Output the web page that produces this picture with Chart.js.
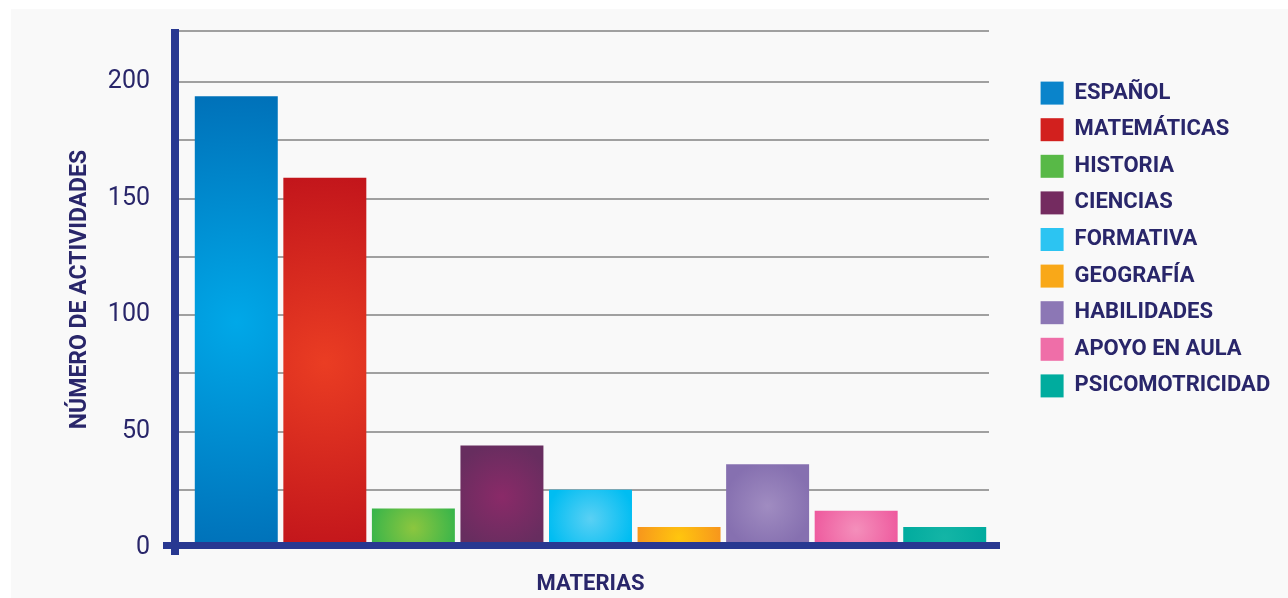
<!DOCTYPE html>
<html>
<head>
    <meta charset="utf-8">
    <title>Número de actividades por materia</title>
    <style>
        body {
            margin: 0;
            background: #ffffff;
        }
        #panel {
            position: absolute;
            left: 11px;
            top: 9px;
            width: 1277px;
            height: 589px;
            background: #f9f9f9;
        }
        #chart-container {
            position: absolute;
            left: 0;
            top: 0;
            width: 1288px;
            height: 598px;
        }
    </style>
</head>
<body>
    <script src="https://cdn.jsdelivr.net/npm/chart.js@4.4.1/dist/chart.umd.min.js"></script>
    <div id="panel"></div>
    <div id="chart-container">
        <canvas id="grafica" width="1288" height="598"></canvas>
    </div>

    <script>
        // datos
        const materias = ['ESPAÑOL', 'MATEMÁTICAS', 'HISTORIA', 'CIENCIAS', 'FORMATIVA',
                          'GEOGRAFÍA', 'HABILIDADES', 'APOYO EN AULA', 'PSICOMOTRICIDAD'];
        const actividades = [194, 159, 17, 44, 25, 9, 36, 16, 9];
        const marcasY = [0, 50, 100, 150, 200];

        // colores: centro del degradado, borde, y caja de la leyenda
        const coloresCentro = ['#00a8e8', '#ea3d23', '#8cc63f', '#8a2a68', '#5ad0f4',
                               '#ffc60e', '#a08cc1', '#f48fbb', '#14b5a6'];
        const coloresBorde = ['#006fb7', '#c1141b', '#39b54a', '#672d5f', '#00bdf2',
                              '#f7941d', '#8670b0', '#ee5a9e', '#00ab9e'];
        const coloresLeyenda = ['#0a84cb', '#d2201e', '#58b947', '#742b60', '#2cc4f2',
                                '#f9a818', '#8c77b5', '#ef6ea8', '#00ac9e'];

        const colorTexto = '#29266a';
        const colorEje = '#283891';
        const fuente = "Roboto, 'Liberation Sans', sans-serif";
        const porcentajeBarra = 0.937;

        // degradado radial de cada barra
        function degradado(ctx) {
            const chart = ctx.chart;
            const i = ctx.dataIndex;
            if (i === undefined || !chart.chartArea) {
                return coloresBorde[0];
            }
            const x = chart.scales.x.getPixelForValue(i);
            const yTop = chart.scales.y.getPixelForValue(actividades[i]);
            const yBase = chart.scales.y.getPixelForValue(0);
            const ancho = chart.scales.x.width / materias.length * porcentajeBarra;
            const cy = (yTop + yBase) / 2;
            const r = Math.max(ancho, yBase - yTop) / 2 * 1.05;
            const g = chart.ctx.createRadialGradient(x, cy, 0, x, cy, r);
            g.addColorStop(0, coloresCentro[i]);
            g.addColorStop(1, coloresBorde[i]);
            return g;
        }

        // ejes gruesos azules dibujados encima de las barras
        const ejesGruesos = {
            id: 'ejesGruesos',
            afterDatasetsDraw(chart) {
                const a = chart.chartArea;
                const c = chart.ctx;
                c.save();
                c.fillStyle = colorEje;
                c.fillRect(a.left - 21, a.top - 2, 8, a.bottom + 7 - (a.top - 2));
                c.fillRect(a.left - 29, a.bottom - 6, a.right + 11 - (a.left - 29), 7);
                c.restore();
            }
        };

        // ancho fijo para la leyenda
        const anchoLeyenda = {
            id: 'anchoLeyenda',
            afterInit(chart) {
                const leg = chart.legend;
                if (!leg) return;
                const fit = leg.fit.bind(leg);
                leg.fit = function () {
                    fit();
                    this.width = 1288 - 1027;
                };
            }
        };

        new Chart('grafica', {
            type: 'bar',
            data: {
                labels: materias,
                datasets: [{
                    data: actividades,
                    backgroundColor: degradado,
                    borderWidth: 0,
                    barPercentage: porcentajeBarra,
                    categoryPercentage: 1
                }]
            },
            options: {
                responsive: false,
                animation: false,
                layout: {
                    padding: { left: 0, top: 31, right: 0, bottom: 0 }
                },
                scales: {
                    x: {
                        ticks: { display: false },
                        grid: { display: false },
                        border: { display: false },
                        title: {
                            display: true,
                            text: 'MATERIAS',
                            color: colorTexto,
                            font: { family: fuente, size: 22, weight: 'bold' },
                            padding: { top: 0, bottom: 0 }
                        },
                        afterFit: s => { s.height = 50; }
                    },
                    y: {
                        min: 0,
                        max: 222,
                        ticks: {
                            stepSize: 25,
                            autoSkip: false,
                            padding: 29,
                            color: colorTexto,
                            font: { family: fuente, size: 25 },
                            callback: v => marcasY.includes(v) ? v : ''
                        },
                        grid: {
                            color: '#a0a0a0',
                            lineWidth: 2,
                            tickLength: 13
                        },
                        border: { display: false },
                        title: {
                            display: true,
                            text: 'NÚMERO DE ACTIVIDADES',
                            color: colorTexto,
                            font: { family: fuente, size: 23, weight: 'bold' },
                            padding: { top: 66, bottom: 0 }
                        },
                        afterFit: s => {
                            s.width = 192;
                            s.paddingTop = 0;
                            s.paddingBottom = 0;
                        }
                    },
                    hueco: {
                        position: 'right',
                        ticks: { display: false },
                        grid: { display: false },
                        border: { display: false },
                        afterFit: s => { s.width = 38; }
                    }
                },
                plugins: {
                    tooltip: { enabled: false },
                    legend: {
                        position: 'right',
                        align: 'start',
                        title: {
                            display: true,
                            text: ' ',
                            font: { size: 10 },
                            padding: { top: 25, bottom: 0 }
                        },
                        labels: {
                            boxWidth: 23,
                            boxHeight: 23,
                            padding: 13.6,
                            color: colorTexto,
                            font: { family: fuente, size: 22, weight: 'bold' },
                            generateLabels: () => materias.map((m, i) => ({
                                text: m,
                                fillStyle: coloresLeyenda[i],
                                strokeStyle: coloresLeyenda[i],
                                lineWidth: 0,
                                fontColor: colorTexto,
                                hidden: false,
                                index: i
                            }))
                        }
                    }
                }
            },
            plugins: [ejesGruesos, anchoLeyenda]
        });
    </script>
</body>
</html>
